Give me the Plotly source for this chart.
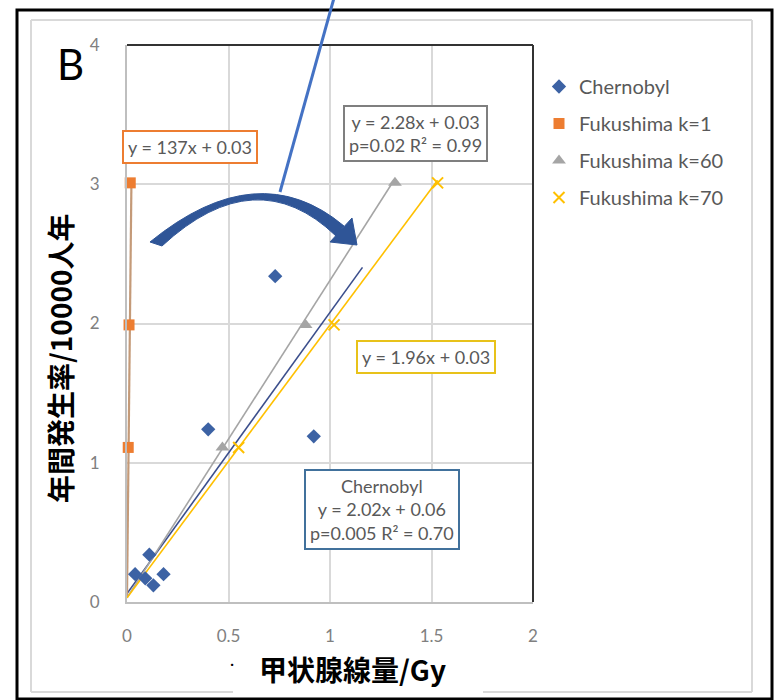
import plotly.graph_objects as go

# ---------------- data ----------------
cher_x = [0.04, 0.09, 0.11, 0.13, 0.18, 0.40, 0.73, 0.92]
cher_y = [0.20, 0.17, 0.34, 0.12, 0.20, 1.24, 2.34, 1.19]

fuku_y = [1.11, 1.99, 3.01]
fuku_k1_x = [0.006, 0.010, 0.016]
fuku_k60_x = [0.47, 0.88, 1.32]
fuku_k70_x = [0.55, 1.02, 1.53]

# trendlines (slope, intercept, x-extent) as written on the chart
trend_names = ["Chernobyl", "Fukushima k=1", "Fukushima k=60", "Fukushima k=70"]
trend_slope = [2.02, 137, 2.28, 1.96]
trend_icpt = [0.06, 0.03, 0.03, 0.03]
trend_xmax = [1.16, 0.0218, 1.32, 1.53]
trend_color = ["#3B4E8C", "#C49A78", "#A5A5A5", "#FFC000"]

x_ticks = [0, 0.5, 1, 1.5, 2]
y_ticks = [0, 1, 2, 3, 4]

# ---------------- layout geometry ----------------
W, H = 776, 700
L, R, T, B = 127, 243, 45, 98
PW = W - L - R
PH = H - T - B


def px(x):
    return (x - L) / PW


def py(y):
    return (H - B - y) / PH


def pt(x, y):
    return f"{px(x):.5f},{py(y):.5f}"


FONT = "Lato, 'Open Sans', sans-serif"
CJK = "'Noto Sans CJK JP', 'Noto Sans CJK SC', sans-serif"
TXT = "#595959"

fig = go.Figure()

# trendlines
for name, m, b, xm, c in zip(trend_names, trend_slope, trend_icpt, trend_xmax, trend_color):
    xs = [0, xm]
    ys = [b + m * v for v in xs]
    fig.add_trace(go.Scatter(x=xs, y=ys, mode="lines", showlegend=False,
                             line=dict(color=c, width=2.2 if name == "Fukushima k=1" else 1.6),
                             hoverinfo="skip", cliponaxis=False))

# markers
fig.add_trace(go.Scatter(x=cher_x, y=cher_y, mode="markers", name="Chernobyl",
                         legendgroup="a",
                         marker=dict(symbol="diamond", size=11, color="#3C62A4"),
                         cliponaxis=False))
fig.add_trace(go.Scatter(x=fuku_k1_x, y=fuku_y, mode="markers", name="Fukushima k=1",
                         legendgroup="b",
                         marker=dict(symbol="square", size=11, color="#ED7D31"),
                         cliponaxis=False))
fig.add_trace(go.Scatter(x=fuku_k60_x, y=fuku_y, mode="markers", name="Fukushima k=60",
                         legendgroup="c",
                         marker=dict(symbol="triangle-up", size=12, color="#A5A5A5"),
                         cliponaxis=False))
fig.add_trace(go.Scatter(x=fuku_k70_x, y=fuku_y, mode="markers", name="Fukushima k=70",
                         legendgroup="d",
                         marker=dict(symbol="x-thin", size=11, color="#FFC000",
                                     line=dict(color="#FFC000", width=2)),
                         cliponaxis=False))

shapes = []
# outer black frame
shapes.append(dict(type="rect", xref="paper", yref="paper",
                   x0=px(17), x1=px(772), y0=py(699), y1=py(10),
                   line=dict(color="black", width=3), layer="below"))
# inner light grey frame (bottom edge interrupted)
for (x0, y0, x1, y1) in [(31, 20, 752, 20), (31, 20, 31, 692), (752, 20, 752, 692),
                         (31, 692, 233, 692), (483, 692, 752, 692)]:
    shapes.append(dict(type="line", xref="paper", yref="paper",
                       x0=px(x0), y0=py(y0), x1=px(x1), y1=py(y1),
                       line=dict(color="#D9D9D9", width=2), layer="below"))
# dark top and right border of plot area
shapes.append(dict(type="line", xref="paper", yref="paper", x0=0, x1=1, y0=1, y1=1,
                   line=dict(color="#333333", width=2)))
shapes.append(dict(type="line", xref="paper", yref="paper", x0=1, x1=1, y0=0, y1=1,
                   line=dict(color="#333333", width=2)))
# straight blue pointer line
shapes.append(dict(type="line", xref="paper", yref="paper",
                   x0=px(280), y0=py(192), x1=px(334), y1=py(-2),
                   line=dict(color="#4472C4", width=3)))
# curved arrow body (filled crescent, thick at the tail, thinner at the top)
shapes.append(dict(type="path", xref="paper", yref="paper",
                   path=(f"M {pt(150,242)} Q {pt(258,154)} {pt(344,226)} "
                         f"L {pt(336,236)} Q {pt(256,159)} {pt(162,246)} Z"),
                   fillcolor="#2F5597", line=dict(color="#2F5597", width=1)))
# arrow head
shapes.append(dict(type="path", xref="paper", yref="paper",
                   path=f"M {pt(330,242)} L {pt(352,218)} L {pt(357,245)} Z",
                   fillcolor="#2F5597", line=dict(color="#2F5597", width=1)))

annotations = []


def box(text, cx, cy, border):
    annotations.append(dict(text=text, xref="paper", yref="paper",
                            x=px(cx), y=py(cy), xanchor="center", yanchor="middle",
                            showarrow=False, align="center",
                            font=dict(family=FONT, size=18, color=TXT),
                            bgcolor="white", bordercolor=border, borderwidth=2,
                            borderpad=4))


box("y = 137x + 0.03", 190, 147, "#ED7D31")
box("y = 2.28x + 0.03<br>p=0.02 R² = 0.99", 415, 134, "#7F7F7F")
box("y = 1.96x + 0.03", 426, 357, "#E8C21A")
box("Chernobyl<br>y = 2.02x + 0.06<br>p=0.005 R² = 0.70", 382, 509, "#41719C")

# panel letter
annotations.append(dict(text="B", xref="paper", yref="paper", x=px(70), y=py(64),
                        xanchor="center", yanchor="middle", showarrow=False,
                        font=dict(family=FONT, size=42, color="black")))
# axis titles
annotations.append(dict(text="<b>年間発生率/10000人年</b>", xref="paper", yref="paper",
                        x=px(60), y=py(359), xanchor="center", yanchor="middle",
                        textangle=-90, showarrow=False,
                        font=dict(family=CJK, size=28, color="black")))
annotations.append(dict(text="<b>甲状腺線量/Gy</b>", xref="paper", yref="paper",
                        x=px(352), y=py(669), xanchor="center", yanchor="middle",
                        showarrow=False,
                        font=dict(family=CJK, size=28, color="black")))
annotations.append(dict(text="·", xref="paper", yref="paper",
                        x=px(232), y=py(662), xanchor="center", yanchor="middle",
                        showarrow=False,
                        font=dict(family=FONT, size=16, color="black")))

fig.update_layout(
    width=W, height=H, autosize=False,
    margin=dict(l=L, r=R, t=T, b=B, pad=0),
    paper_bgcolor="white", plot_bgcolor="white",
    shapes=shapes, annotations=annotations,
    showlegend=True,
    legend=dict(x=px(539), y=py(67), xanchor="left", yanchor="top",
                font=dict(family=FONT, size=20, color=TXT),
                tracegroupgap=8, bgcolor="rgba(0,0,0,0)", itemwidth=30),
    xaxis=dict(range=[0, 2], tickvals=x_ticks, ticktext=[str(v) for v in x_ticks],
               showgrid=True, gridcolor="#D9D9D9", gridwidth=1.5,
               zeroline=False, showline=True, linecolor="#BFBFBF", linewidth=2,
               ticks="", ticklabelstandoff=18,
               tickfont=dict(family=FONT, size=17, color="#808080"), fixedrange=True),
    yaxis=dict(range=[0, 4], tickvals=y_ticks, ticktext=[str(v) for v in y_ticks],
               showgrid=True, gridcolor="#D9D9D9", gridwidth=1.5,
               zeroline=False, showline=True, linecolor="#BFBFBF", linewidth=2,
               ticks="", ticklabelstandoff=22,
               tickfont=dict(family=FONT, size=17, color="#808080"), fixedrange=True),
)

fig.write_html("out.html")
